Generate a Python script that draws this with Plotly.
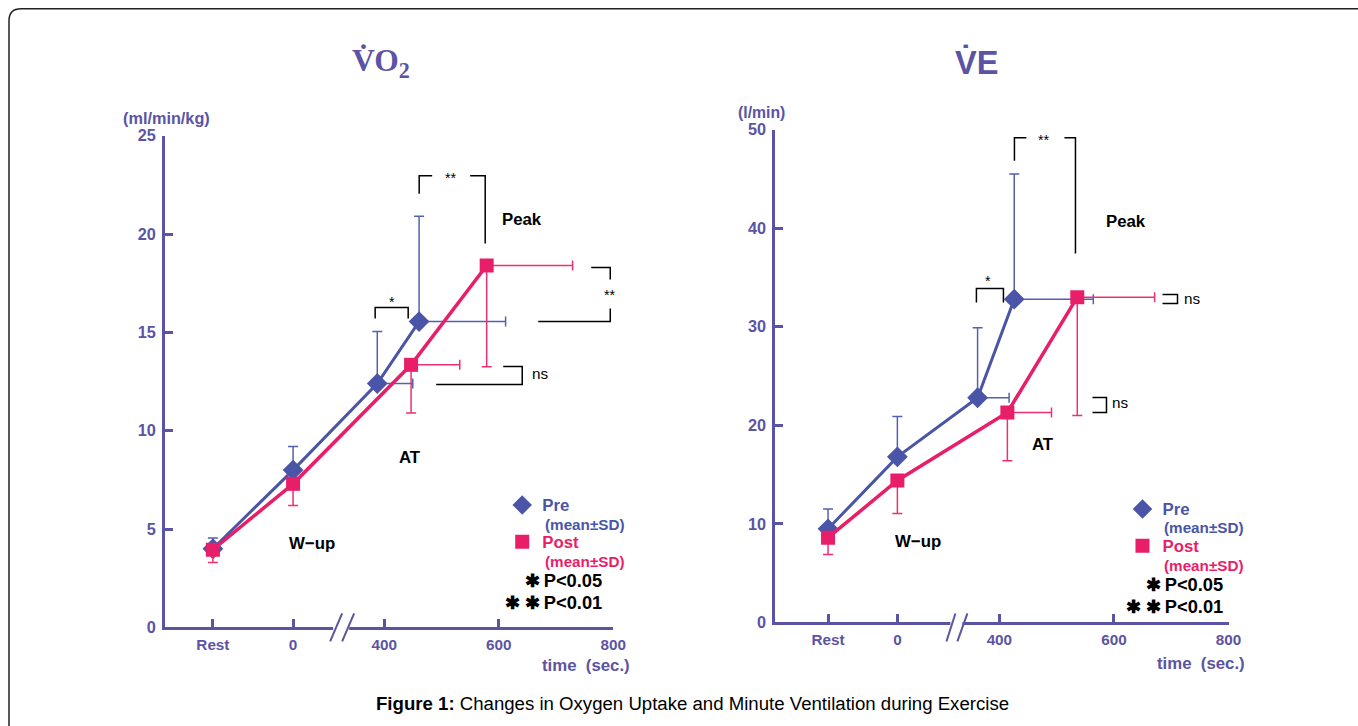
import plotly.graph_objects as go

W, H = 1358, 726

# ---------------- data ----------------
stage_labels = ["Rest", "0", "400", "600", "800"]
tick_times_vo2 = [101, 241, 400, 600, 800]   # positions of Rest / 0 on the broken axis
tick_times_ve = [101, 222, 400, 600, 800]

# VO2 (ml/min/kg)
vo2_pre_t = [101, 241, 388, 461]
vo2_pre = [4.0, 8.0, 12.4, 15.55]
vo2_pre_sd = [0.55, 1.2, 2.65, 5.35]
vo2_pre_tsd = [0, 0, 62, 151]

vo2_post_t = [101, 241, 447, 579]
vo2_post = [3.95, 7.3, 13.35, 18.4]
vo2_post_sd = [0.65, 1.1, 2.45, 5.15]
vo2_post_tsd = [0, 0, 85, 150]

# VE (l/min)
ve_pre_t = [101, 222, 362, 426]
ve_pre = [9.5, 16.8, 22.8, 32.8]
ve_pre_sd = [2.0, 4.1, 7.1, 12.7]
ve_pre_tsd = [0, 0, 55, 138]

ve_post_t = [101, 222, 414, 536]
ve_post = [8.6, 14.4, 21.3, 33.0]
ve_post_sd = [1.7, 3.35, 4.9, 12.0]
ve_post_tsd = [0, 0, 77, 135]

vo2_ticks = [0, 5, 10, 15, 20, 25]
ve_ticks = [0, 10, 20, 30, 40, 50]

# ---------------- style ----------------
PURPLE = "#5b54a4"
BLUE = "#4a55a8"
BLUE_EB = "#5660b2"
PINK = "#e91e69"
PINK_EB = "#ee2f73"
SANS = "Liberation Sans"

# calibration of page coordinates to the photographed picture
SX, OX = 0.99, 0.0
SY, OY = 0.9756, 8.3


def px(x):
    return ((x - OX) / SX) / W


def py(y):
    return 1 - ((y - OY) / SY) / H


def fs(s):
    return round(s / ((SX + SY) / 2), 2)


fig = go.Figure()


def add_series(t, v, sd, tsd, xa, ya, color, ebcolor, symbol, size, lw, up):
    zeros = [0] * len(v)
    fig.add_trace(go.Scatter(
        x=t, y=v, mode="lines+markers", xaxis=xa, yaxis=ya, showlegend=False,
        line=dict(color=color, width=lw),
        marker=dict(symbol=symbol, size=size, color=color, line=dict(width=0)),
        error_y=dict(type="data", symmetric=False,
                     array=sd if up else zeros, arrayminus=zeros if up else sd,
                     color=ebcolor, thickness=1.5, width=5),
        error_x=dict(type="data", symmetric=False, array=tsd, arrayminus=zeros,
                     color=ebcolor, thickness=1.5, width=5),
        hoverinfo="skip"))


add_series(vo2_pre_t, vo2_pre, vo2_pre_sd, vo2_pre_tsd, "x", "y", BLUE, BLUE_EB, "diamond", 16, 3, True)
add_series(vo2_post_t, vo2_post, vo2_post_sd, vo2_post_tsd, "x", "y", PINK, PINK_EB, "square", 14, 3.5, False)
add_series(ve_pre_t, ve_pre, ve_pre_sd, ve_pre_tsd, "x2", "y2", BLUE, BLUE_EB, "diamond", 16, 3, True)
add_series(ve_post_t, ve_post, ve_post_sd, ve_post_tsd, "x2", "y2", PINK, PINK_EB, "square", 14, 3.5, False)

for lg, xa, ya in [("legend", "x", "y"), ("legend2", "x2", "y2")]:
    fig.add_trace(go.Scatter(x=[None], y=[None], mode="markers", xaxis=xa, yaxis=ya,
                             marker=dict(symbol="diamond", size=15, color=BLUE),
                             name=f"<span style='color:{BLUE}'><b>Pre</b></span>",
                             legend=lg, legendgroup="pre" + lg))
    fig.add_trace(go.Scatter(x=[None], y=[None], mode="markers", xaxis=xa, yaxis=ya,
                             marker=dict(symbol="square", size=14, color=PINK),
                             name=f"<span style='color:{PINK}'><b>Post</b></span>",
                             legend=lg, legendgroup="post" + lg))

axis_common = dict(showline=True, linecolor=PURPLE, linewidth=3, ticks="inside",
                   ticklen=8, tickwidth=3, tickcolor=PURPLE, showgrid=False,
                   zeroline=False, fixedrange=True)

legend_common = dict(xanchor="left", yanchor="top", bgcolor="rgba(0,0,0,0)",
                     font=dict(family=SANS, size=fs(16.5)), tracegroupgap=12,
                     itemsizing="trace")

fig.update_layout(
    width=W, height=H, margin=dict(l=0, r=0, t=0, b=0),
    paper_bgcolor="white", plot_bgcolor="white",
    xaxis=dict(domain=[px(165), px(613)], range=[17.5, 800], anchor="y",
               tickvals=tick_times_vo2, ticktext=stage_labels,
               tickfont=dict(family=SANS, size=fs(15), color=PURPLE, weight="bold"),
               ticklabelstandoff=1, **axis_common),
    yaxis=dict(domain=[py(627), py(135)], range=[0, 25], anchor="x",
               tickvals=vo2_ticks,
               tickfont=dict(family=SANS, size=fs(16), color=PURPLE, weight="bold"),
               ticklabelstandoff=3, **axis_common),
    xaxis2=dict(domain=[px(775), px(1228)], range=[9, 800], anchor="y2",
                tickvals=tick_times_ve, ticktext=stage_labels,
                tickfont=dict(family=SANS, size=fs(15), color=PURPLE, weight="bold"),
                ticklabelstandoff=1, **axis_common),
    yaxis2=dict(domain=[py(622), py(129)], range=[0, 50], anchor="x2",
                tickvals=ve_ticks,
                tickfont=dict(family=SANS, size=fs(16), color=PURPLE, weight="bold"),
                ticklabelstandoff=3, **axis_common),
    legend=dict(x=px(502), y=py(487), **legend_common),
    legend2=dict(x=px(1122), y=py(491), **legend_common),
)

shapes = []
annotations = []


def path(points_list, color="black", width=1.5):
    d = ""
    for pts in points_list:
        d += "M" + " L".join(f"{px(x):.5f},{py(y):.5f}" for x, y in pts) + " "
    shapes.append(dict(type="path", xref="paper", yref="paper", path=d.strip(),
                       line=dict(color=color, width=width)))


def text(x, y, s, size=15, color="black", bold=False, family=SANS, xanchor="center"):
    annotations.append(dict(x=px(x), y=py(y), xref="paper", yref="paper", text=s,
                            showarrow=False, xanchor=xanchor, yanchor="middle",
                            font=dict(family=family, size=fs(size), color=color,
                                      weight="bold" if bold else "normal")))


# page frame
shapes.append(dict(type="path", xref="paper", yref="paper",
                   path=f"M{px(9)},{py(740)} L{px(9)},{py(20)} Q{px(9)},{py(8)} {px(21)},{py(8)} L{px(1370)},{py(8)}",
                   line=dict(color="#222222", width=1.5)))

# axis breaks
for x0, x1, s1, s2 in [(333, 349, (330, 342), (342, 354)), (950, 962, (946, 955), (957, 967))]:
    shapes.append(dict(type="rect", xref="paper", yref="paper", x0=px(x0), x1=px(x1),
                       y0=py(633), y1=py(616), fillcolor="white", line=dict(width=0), layer="above"))
    path([[(s1[0], 641), (s1[1], 613)]], color=PURPLE, width=2)
    path([[(s2[0], 641), (s2[1], 613)]], color=PURPLE, width=2)

# significance brackets - VO2
path([[(375, 318), (375, 307), (408, 307), (408, 318)]])
text(392, 301, "*", size=14)
path([[(419, 193), (419, 175), (432, 175)], [(470, 175), (485, 175), (485, 243)]])
text(451, 177, "**", size=14)
path([[(591, 267), (610, 267), (610, 279)], [(610, 308), (610, 321), (538, 321)]])
text(610, 294, "**", size=14)
path([[(503, 366), (522, 366), (522, 384), (436, 384)]])
text(540, 373, "ns", size=15)

# significance brackets - VE
path([[(1014, 160), (1014, 137), (1026, 137)], [(1064, 137), (1075, 137), (1075, 253)]])
text(1044, 139, "**", size=14)
path([[(976, 302), (976, 288), (1003, 288), (1003, 302)]])
text(988, 280, "*", size=14)
path([[(1162, 294), (1177, 294), (1177, 303), (1162, 303)]])
text(1191, 298, "ns", size=15)
path([[(1092, 397), (1106, 397), (1106, 412), (1092, 412)]])
text(1120, 402, "ns", size=15)

# phase labels
for x, y, s in [(522, 219, "Peak"), (410, 457, "AT"), (312, 543, "W\u2212up"),
                (1126, 221, "Peak"), (1043, 444, "AT"), (918, 541, "W\u2212up")]:
    text(x, y, s, size=16.5, bold=True)

# titles
text(381, 62, "V\u0307O<sub>2</sub>", size=31, color=PURPLE, bold=True, family="Liberation Serif")
text(976, 62, "V\u0307E", size=32, color=PURPLE, bold=True)

# axis units
text(166, 117, "(ml/min/kg)", size=16, color=PURPLE, bold=True)
text(761, 112, "(l/min)", size=15.5, color=PURPLE, bold=True)
text(632, 665, "time  (sec.)", size=16.5, color=PURPLE, bold=True, xanchor="right")
text(1246, 663, "time  (sec.)", size=16.5, color=PURPLE, bold=True, xanchor="right")

# legend sub-labels
text(543, 524, "(mean±SD)", size=15, color=BLUE, bold=True, xanchor="left")
text(543, 561, "(mean±SD)", size=15, color=PINK, bold=True, xanchor="left")
text(1161, 527, "(mean±SD)", size=15, color=BLUE, bold=True, xanchor="left")
text(1161, 565, "(mean±SD)", size=15, color=PINK, bold=True, xanchor="left")

# p-value keys
text(604, 580, "\u2731\u2009P<0.05", size=18, bold=True, xanchor="right")
text(604, 602, "\u2731 \u2731\u2009P<0.01", size=18, bold=True, xanchor="right")
text(1224, 584, "\u2731\u2009P<0.05", size=18, bold=True, xanchor="right")
text(1224, 606, "\u2731 \u2731\u2009P<0.01", size=18, bold=True, xanchor="right")

# caption
text(692, 703, "<b>Figure 1:</b> Changes in Oxygen Uptake and Minute Ventilation during Exercise",
     size=18.3)

fig.update_layout(shapes=shapes, annotations=annotations)
fig.write_html(
    "out.html",
    config={"displayModeBar": False},
    post_script=("var gd=document.getElementById('{plot_id}');"
                 "document.body.style.margin='0px';document.body.style.overflow='hidden';"
                 "gd.style.position='fixed';gd.style.left='0px';gd.style.top='0px';"),
)
